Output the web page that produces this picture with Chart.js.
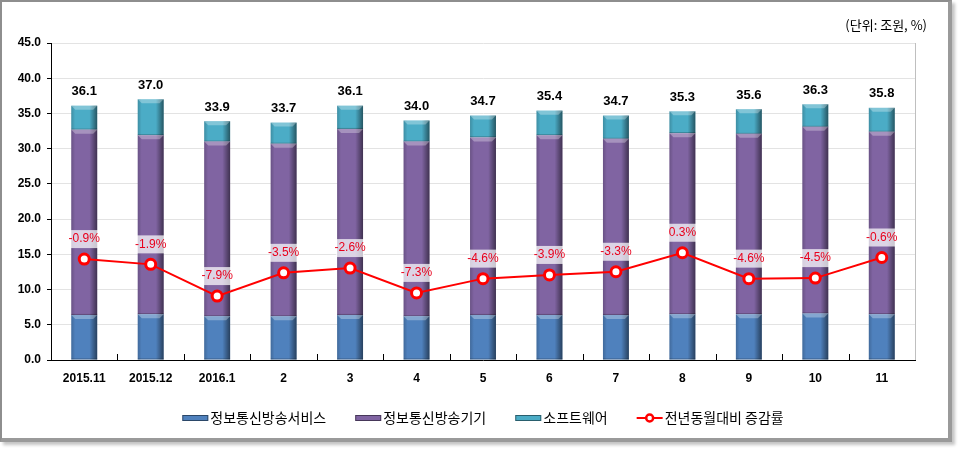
<!DOCTYPE html>
<html>
<head>
<meta charset="utf-8">
<script src="https://cdn.jsdelivr.net/npm/chart.js@4"></script>
<style>
    body { margin: 0; background: #ffffff; }
    #wrap { position: relative; width: 960px; height: 450px; }
    #frame {
        position: absolute; left: 0; top: 0; width: 946px; height: 436px;
        border-left: 2px solid #8e8e8e; border-top: 2px solid #8e8e8e;
        border-right: 4px solid #9a9a9a; border-bottom: 4px solid #9a9a9a;
        box-shadow: 3px 3px 3px #c4c4c4;
    }
    canvas { position: absolute; left: 0; top: 0; }
</style>
</head>
<body>
<div id="wrap">
    <div id="frame"></div>
    <canvas id="chart" width="960" height="450"></canvas>
</div>
<script>
// Chart data
const months = ["2015.11", "2015.12", "2016.1", "2", "3", "4", "5", "6", "7", "8", "9", "10", "11"];
const services = [6.4, 6.5, 6.2, 6.2, 6.4, 6.2, 6.4, 6.4, 6.4, 6.5, 6.5, 6.6, 6.5];
const equipment = [26.3, 25.4, 24.8, 24.5, 26.4, 24.8, 25.2, 25.5, 25.0, 25.7, 25.6, 26.5, 25.9];
const software = [3.4, 5.1, 2.9, 3.0, 3.3, 3.0, 3.1, 3.5, 3.3, 3.1, 3.5, 3.2, 3.4];
const totals = [36.1, 37.0, 33.9, 33.7, 36.1, 34.0, 34.7, 35.4, 34.7, 35.3, 35.6, 36.3, 35.8];
const growth = [-0.9, -1.9, -7.9, -3.5, -2.6, -7.3, -4.6, -3.9, -3.3, 0.3, -4.6, -4.5, -0.6];

const seriesNames = ["정보통신방송서비스", "정보통신방송기기", "소프트웨어", "전년동월대비 증감률"];
const colors = ["#4f81bd", "#8064a2", "#4bacc6", "#ff0000"];

const numFont = "'Liberation Sans', Arial, sans-serif";
const krFont = "'Noto Sans CJK KR', sans-serif";

/**
 * Bevel look for the bars: dark edges and a light top band
 */
const bevelPlugin = {
    id: "bevel",
    afterDatasetDraw(chart, args) {
        const meta = args.meta;
        if (meta.type !== "bar") return;
        const ctx = chart.ctx;
        ctx.save();
        meta.data.forEach(bar => {
            const left = bar.x - bar.width / 2;
            const top = Math.min(bar.y, bar.base);
            const h = Math.abs(bar.base - bar.y);
            // Side shading
            const g = ctx.createLinearGradient(left, 0, left + bar.width, 0);
            g.addColorStop(0, "rgba(0,0,0,0.18)");
            g.addColorStop(0.15, "rgba(0,0,0,0)");
            g.addColorStop(0.7, "rgba(0,0,0,0)");
            g.addColorStop(1, "rgba(0,0,0,0.5)");
            ctx.fillStyle = g;
            ctx.fillRect(left, top, bar.width, h);
            // Top bevel
            ctx.fillStyle = "rgba(255,255,255,0.3)";
            ctx.beginPath();
            ctx.moveTo(left, top);
            ctx.lineTo(left + bar.width, top);
            ctx.lineTo(left + bar.width - 4, top + 4);
            ctx.lineTo(left + 4, top + 4);
            ctx.closePath();
            ctx.fill();
            // Dark line under each segment
            ctx.fillStyle = "rgba(0,0,0,0.25)";
            ctx.fillRect(left, top + h - 1, bar.width, 1);
        });
        ctx.restore();
    },
};

/**
 * Labels, unit text, inner ticks and the legend
 */
const extrasPlugin = {
    id: "extras",
    afterDatasetsDraw(chart) {
        const ctx = chart.ctx;
        const area = chart.chartArea;
        const xs = chart.scales.x;
        ctx.save();

        // Right border of the plot
        ctx.strokeStyle = "#bfbfbf";
        ctx.lineWidth = 1;
        ctx.beginPath();
        ctx.moveTo(area.right + 0.5, area.top);
        ctx.lineTo(area.right + 0.5, area.bottom);
        ctx.stroke();

        // Inner tick marks between categories
        ctx.strokeStyle = "#000000";
        const step = xs.getPixelForValue(1) - xs.getPixelForValue(0);
        for (let i = 1; i < months.length; i++) {
            const x = Math.round(xs.getPixelForValue(i) - step / 2) + 0.5;
            ctx.beginPath();
            ctx.moveTo(x, area.bottom);
            ctx.lineTo(x, area.bottom - 6);
            ctx.stroke();
        }

        // Totals above the bars
        const topMeta = chart.getDatasetMeta(2);
        ctx.font = "bold 13px " + numFont;
        ctx.fillStyle = "#000000";
        ctx.textAlign = "center";
        ctx.textBaseline = "middle";
        topMeta.data.forEach((bar, i) => {
            ctx.fillText(totals[i].toFixed(1), bar.x, bar.y - 14);
        });

        // Growth rate labels
        const lineMeta = chart.getDatasetMeta(3);
        ctx.font = "12px " + numFont;
        lineMeta.data.forEach((pt, i) => {
            ctx.fillStyle = "rgba(255,255,255,0.72)";
            ctx.fillRect(pt.x - 14, pt.y - 29, 28, 18);
            ctx.fillStyle = "#e8001c";
            ctx.fillText(growth[i].toFixed(1) + "%", pt.x, pt.y - 20);
        });

        // Unit text
        ctx.font = "13px " + krFont;
        ctx.fillStyle = "#000000";
        ctx.textAlign = "right";
        ctx.fillText("(단위: 조원, %)", 927, 25);

        // Legend
        ctx.font = "14px " + krFont;
        ctx.textAlign = "left";
        const legendY = 418;
        const swatch = 28;
        const gap = 29;
        const widths = seriesNames.map(n => swatch + ctx.measureText(n).width);
        const totalW = widths.reduce((a, b) => a + b, 0) + gap * (seriesNames.length - 1);
        let x = (area.left + area.right) / 2 - totalW / 2;
        seriesNames.forEach((name, i) => {
            if (i < 3) {
                ctx.fillStyle = colors[i];
                ctx.fillRect(x, legendY - 3, swatch - 2, 6);
                ctx.strokeStyle = "rgba(0,0,0,0.45)";
                ctx.lineWidth = 1;
                ctx.strokeRect(x + 0.5, legendY - 2.5, swatch - 3, 5);
            } else {
                ctx.strokeStyle = colors[3];
                ctx.lineWidth = 2;
                ctx.beginPath();
                ctx.moveTo(x, legendY);
                ctx.lineTo(x + swatch - 2, legendY);
                ctx.stroke();
                ctx.beginPath();
                ctx.arc(x + swatch / 2 - 1, legendY, 3.5, 0, Math.PI * 2);
                ctx.fillStyle = "#ffffff";
                ctx.fill();
                ctx.lineWidth = 2.5;
                ctx.stroke();
            }
            ctx.fillStyle = "#000000";
            ctx.fillText(name, x + swatch, legendY);
            x += widths[i] + gap;
        });
        ctx.restore();
    },
};

// Build the datasets
const barSeries = [services, equipment, software];
const datasets = barSeries.map((data, i) => ({
    type: "bar",
    label: seriesNames[i],
    data: data,
    backgroundColor: colors[i],
    stack: "total",
    yAxisID: "y",
    order: 1,
    categoryPercentage: 1,
    barPercentage: 0.39,
}));
datasets.push({
    type: "line",
    label: seriesNames[3],
    data: growth,
    yAxisID: "y2",
    order: 0,
    borderColor: colors[3],
    borderWidth: 2,
    pointRadius: 5,
    pointBorderWidth: 3,
    pointBackgroundColor: "#ffffff",
    pointBorderColor: colors[3],
    tension: 0,
});

new Chart(document.getElementById("chart"), {
    data: { labels: months, datasets: datasets },
    plugins: [bevelPlugin, extrasPlugin],
    options: {
        responsive: false,
        animation: false,
        layout: { padding: { top: 43, right: 45, left: 0, bottom: 0 } },
        plugins: {
            legend: { display: false },
            tooltip: { enabled: false },
        },
        scales: {
            x: {
                stacked: true,
                grid: { display: false, drawTicks: false },
                border: { color: "#000000", width: 1 },
                ticks: {
                    padding: 11,
                    color: "#000000",
                    font: { family: numFont, size: 12, weight: "bold" },
                },
                afterFit(scale) {
                    scale.height = 90;
                },
            },
            y: {
                stacked: true,
                min: 0,
                max: 45,
                grid: { color: "#e3e3e3", tickColor: "#000000", tickLength: 4 },
                border: { color: "#000000", width: 1 },
                ticks: {
                    stepSize: 5,
                    padding: 6,
                    color: "#000000",
                    font: { family: numFont, size: 12, weight: "bold" },
                    callback: v => v.toFixed(1),
                },
                afterFit(scale) {
                    scale.width = 51;
                },
            },
            y2: {
                display: false,
                min: -20,
                max: 40,
            },
        },
    },
});
</script>
</body>
</html>
